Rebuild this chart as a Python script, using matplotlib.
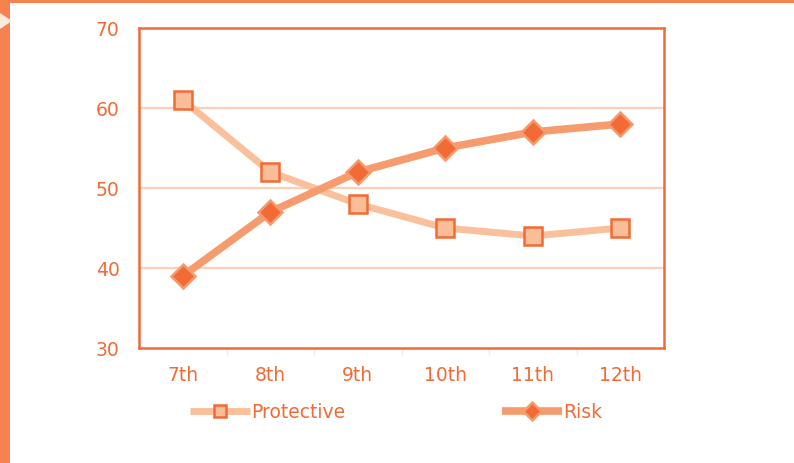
import matplotlib
matplotlib.use("Agg")
import matplotlib.pyplot as plt
from matplotlib.patches import Rectangle, Polygon
from matplotlib.lines import Line2D

categories = ["7th", "8th", "9th", "10th", "11th", "12th"]
protective = [61, 52, 48, 45, 44, 45]
risk = [39, 47, 52, 55, 57, 58]
yticks = [30, 40, 50, 60, 70]

W, H = 794, 463
fig = plt.figure(figsize=(W / 100, H / 100), dpi=100)
fig.patch.set_facecolor("white")

# frame decorations
fig.add_artist(Rectangle((0, 1 - 3 / H), 1, 3 / H, transform=fig.transFigure,
                         color="#f7814f", lw=0))
fig.add_artist(Rectangle((0, 0), 10 / W, 1, transform=fig.transFigure,
                         color="#f7814f", lw=0))
fig.add_artist(Polygon([(0, 1 - 13 / H), (0, 1 - 29 / H), (12 / W, 1 - 21 / H)],
                       closed=True, transform=fig.transFigure,
                       color="#fde8dc", lw=0))

ax = fig.add_axes([139 / W, 1 - 348 / H, (664 - 139) / W, (348 - 28) / H])
x = list(range(len(categories)))

tc = "#f26a35"
fs = 13.5
ax.set_xlim(-0.5, len(categories) - 0.5)
ax.set_ylim(30, 70)
ax.set_yticks(yticks)
ax.set_xticks(x)
ax.set_xticklabels(categories)
for sp in ax.spines.values():
    sp.set_color(tc)
    sp.set_linewidth(1.8)
ax.tick_params(axis="both", length=0, colors=tc, labelsize=fs)
ax.tick_params(axis="y", pad=14)
ax.tick_params(axis="x", pad=13)
for yv in [40, 50, 60]:
    ax.axhline(yv, color="#fdd0b5", lw=1.6, zorder=1)
# minor ticks between categories
ax.set_xticks([i - 0.5 for i in range(1, len(categories))], minor=True)
ax.tick_params(axis="x", which="minor", length=5, color="#fde8dc", width=1, direction="out")

pcol, pface = "#f9c09b", "#f9bd98"
rcol = "#f59b6e"
ax.plot(x, protective, color=pcol, lw=5, marker="s", markersize=13.5,
        markerfacecolor=pface, markeredgecolor=tc, markeredgewidth=1.8,
        zorder=3, solid_capstyle="butt")
ax.plot(x, risk, color=rcol, lw=5.5, marker="D", markersize=12.5,
        markerfacecolor=tc, markeredgecolor=rcol, markeredgewidth=1.8,
        zorder=4, solid_capstyle="butt")

hp = Line2D([], [], color=pcol, lw=5, marker="s", markersize=9,
            markerfacecolor=pface, markeredgecolor=tc, markeredgewidth=1.8,
            solid_capstyle="butt", label="Protective")
hr = Line2D([], [], color=rcol, lw=5.5, marker="D", markersize=9,
            markerfacecolor=tc, markeredgecolor=rcol, markeredgewidth=1.8,
            solid_capstyle="butt", label="Risk")

kw = dict(frameon=False, borderpad=0, borderaxespad=0, handlelength=3.2,
          handletextpad=0.05, prop={"size": fs}, labelcolor=tc, loc="center left",
          bbox_transform=fig.transFigure)
fig.legend(handles=[hp], bbox_to_anchor=(190 / W, 1 - 412 / H), **kw)
fig.legend(handles=[hr], bbox_to_anchor=(502 / W, 1 - 412 / H), **kw)

fig.savefig("out.png", dpi=100, facecolor="white")
